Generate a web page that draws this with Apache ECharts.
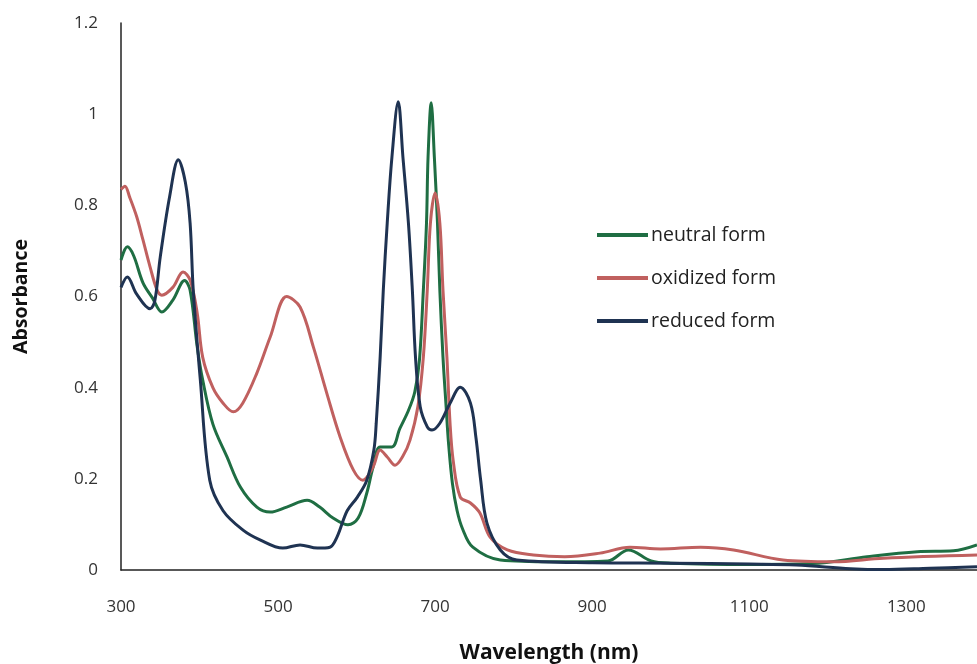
<!DOCTYPE html>
<html>
<head>
<meta charset="utf-8">
<script src="https://cdn.jsdelivr.net/npm/echarts@6/dist/echarts.min.js"></script>
<style>html,body{margin:0;padding:0;background:#fff;}#c{width:977px;height:664px;}</style>
</head>
<body>
<div id="c"></div>
<script>
const seriesNames = ['neutral form', 'oxidized form', 'reduced form'];
const xTicks = [300, 500, 700, 900, 1100, 1300];
const yTicks = [0, 0.2, 0.4, 0.6, 0.8, 1, 1.2];

const neutralWl = [300, 308, 316, 328, 340, 352, 366, 381, 388, 397, 404, 417, 435, 452, 473, 490, 511, 537, 553, 570, 589, 602, 613, 621, 630, 645, 655, 666, 674, 680, 685, 689, 691, 695, 699, 703, 706, 710, 714, 717, 722, 728, 735, 748, 783, 850, 920, 946, 975, 1000, 1100, 1180, 1250, 1314, 1360, 1390];
const neutralAbs = [0.68, 0.709, 0.69, 0.63, 0.597, 0.566, 0.592, 0.635, 0.614, 0.49, 0.417, 0.32, 0.248, 0.182, 0.138, 0.127, 0.138, 0.153, 0.138, 0.114, 0.099, 0.114, 0.169, 0.226, 0.27, 0.27, 0.31, 0.35, 0.39, 0.46, 0.614, 0.761, 0.906, 1.025, 0.906, 0.761, 0.614, 0.467, 0.358, 0.28, 0.19, 0.13, 0.09, 0.05, 0.022, 0.018, 0.02, 0.044, 0.02, 0.015, 0.012, 0.014, 0.029, 0.04, 0.042, 0.055];

const oxidizedWl = [300, 305, 311, 320, 328, 337, 346, 352, 366, 379, 388, 397, 404, 417, 430, 443, 455, 473, 490, 511, 528, 545, 562, 579, 596, 608, 621, 630, 639, 649, 659, 668, 678, 685, 690, 694, 700, 706, 710, 715, 719, 723, 732, 745, 757, 770, 792, 825, 865, 910, 948, 987, 1038, 1080, 1143, 1207, 1271, 1390];
const oxidizedAbs = [0.835, 0.842, 0.818, 0.775, 0.724, 0.665, 0.614, 0.603, 0.62, 0.654, 0.636, 0.564, 0.467, 0.40, 0.366, 0.347, 0.366, 0.432, 0.511, 0.6, 0.577, 0.489, 0.388, 0.292, 0.219, 0.197, 0.226, 0.263, 0.248, 0.23, 0.25, 0.285, 0.358, 0.467, 0.614, 0.761, 0.827, 0.761, 0.614, 0.467, 0.322, 0.24, 0.16, 0.147, 0.125, 0.072, 0.044, 0.033, 0.029, 0.037, 0.05, 0.046, 0.05, 0.044, 0.022, 0.018, 0.026, 0.033];

const reducedWl = [300, 308, 320, 337, 343, 350, 362, 373, 382, 388, 392, 401, 413, 430, 455, 477, 506, 528, 550, 566, 575, 588, 601, 613, 622, 625, 630, 634, 639, 645, 653, 659, 666, 671, 675, 681, 690, 696, 706, 719, 732, 745, 752, 758, 766, 783, 804, 900, 1000, 1100, 1160, 1229, 1271, 1330, 1390];
const reducedAbs = [0.62, 0.643, 0.605, 0.573, 0.59, 0.687, 0.82, 0.90, 0.85, 0.761, 0.614, 0.417, 0.197, 0.13, 0.088, 0.066, 0.048, 0.055, 0.048, 0.05, 0.072, 0.13, 0.16, 0.197, 0.263, 0.322, 0.467, 0.614, 0.761, 0.906, 1.027, 0.906, 0.761, 0.614, 0.467, 0.358, 0.314, 0.307, 0.322, 0.366, 0.401, 0.366, 0.29, 0.197, 0.103, 0.044, 0.022, 0.016, 0.015, 0.013, 0.011, 0.003, 0.001, 0.004, 0.007];

const colors = ['#1f6e43', '#c0605f', '#1f3352'];

function pairs(xs, ys) { return xs.map((x, i) => [x, ys[i]]); }

const chart = echarts.init(document.getElementById('c'));
const font = 'Open Sans, Liberation Sans, sans-serif';
chart.setOption({
  animation: false,
  backgroundColor: '#fff',
  color: colors,
  grid: { left: 121, right: 0, top: 23, bottom: 94, containLabel: false, outerBoundsMode: 'none' },
  legend: {
    orient: 'vertical',
    left: 597,
    top: 225,
    padding: 0,
    itemWidth: 51,
    itemHeight: 4,
    itemGap: 23,
    icon: 'rect',
    textStyle: { fontSize: 19.5, color: '#222', fontFamily: font, padding: [0, 0, 0, -2] },
    data: seriesNames
  },
  xAxis: {
    type: 'value',
    min: 300,
    max: 1390,
    interval: 200,
    name: 'Wavelength (nm)',
    nameLocation: 'middle',
    nameGap: 73,
    nameTextStyle: { fontSize: 21, fontWeight: 'bold', color: '#111', fontFamily: font },
    axisLine: { show: true, lineStyle: { color: '#222', width: 1.5 } },
    axisTick: { show: false },
    splitLine: { show: false },
    axisLabel: { showMaxLabel: false, margin: 29, fontSize: 17, color: '#333', fontFamily: font, formatter: v => String(v) }
  },
  yAxis: {
    type: 'value',
    min: 0,
    max: 1.2,
    interval: 0.2,
    name: 'Absorbance',
    nameLocation: 'middle',
    nameGap: 90,
    nameTextStyle: { fontSize: 19.5, fontWeight: 'bold', color: '#111', fontFamily: font },
    axisLine: { show: true, lineStyle: { color: '#222', width: 1.5 } },
    axisTick: { show: false },
    splitLine: { show: false },
    axisLabel: { margin: 23, fontSize: 17, color: '#333', fontFamily: font, formatter: v => String(v) }
  },
  series: [
    { name: seriesNames[0], type: 'line', data: pairs(neutralWl, neutralAbs), showSymbol: false, smooth: 0.35, lineStyle: { width: 3 } },
    { name: seriesNames[1], type: 'line', data: pairs(oxidizedWl, oxidizedAbs), showSymbol: false, smooth: 0.35, lineStyle: { width: 3 } },
    { name: seriesNames[2], type: 'line', data: pairs(reducedWl, reducedAbs), showSymbol: false, smooth: 0.35, lineStyle: { width: 3 } }
  ]
});
</script>
</body>
</html>
